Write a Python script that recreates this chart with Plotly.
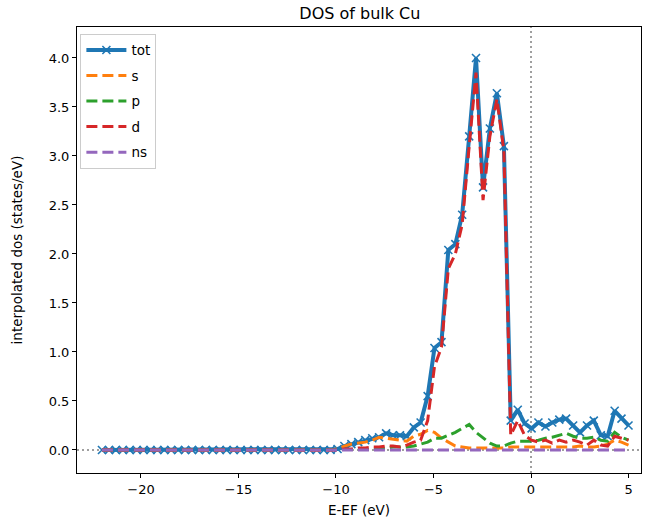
import plotly.graph_objects as go

energy = [-22.00, -21.64, -21.29, -20.93, -20.58, -20.22, -19.87, -19.51, -19.16, -18.80,
          -18.45, -18.09, -17.74, -17.38, -17.03, -16.67, -16.32, -15.96, -15.61, -15.25,
          -14.89, -14.54, -14.18, -13.83, -13.47, -13.12, -12.76, -12.41, -12.05, -11.70,
          -11.34, -10.99, -10.63, -10.28, -9.92, -9.57, -9.21, -8.86, -8.50, -8.14,
          -7.79, -7.43, -7.08, -6.72, -6.37, -6.01, -5.66, -5.30, -4.95, -4.59,
          -4.24, -3.88, -3.53, -3.17, -2.82, -2.46, -2.11, -1.75, -1.39, -1.04,
          -0.68, -0.33, 0.03, 0.38, 0.74, 1.09, 1.45, 1.80, 2.16, 2.51,
          2.87, 3.22, 3.58, 3.93, 4.29, 4.64, 5.00]

ZEROS34 = [0.0, 0.0, 0.0, 0.0, 0.0, 0.0, 0.0, 0.0, 0.0, 0.0,
           0.0, 0.0, 0.0, 0.0, 0.0, 0.0, 0.0, 0.0, 0.0, 0.0,
           0.0, 0.0, 0.0, 0.0, 0.0, 0.0, 0.0, 0.0, 0.0, 0.0,
           0.0, 0.0, 0.0, 0.0]

tot = ZEROS34 + [0.01, 0.04, 0.06, 0.08, 0.10, 0.12, 0.13, 0.17, 0.15, 0.15,
                 0.14, 0.23, 0.28, 0.55, 1.04, 1.10, 2.04, 2.10, 2.40, 3.20,
                 4.00, 2.68, 3.28, 3.64, 3.10, 0.30, 0.41, 0.27, 0.22, 0.28,
                 0.24, 0.28, 0.31, 0.32, 0.25, 0.18, 0.25, 0.30, 0.15, 0.14,
                 0.40, 0.32, 0.25]

s_dos = ZEROS34 + [0.01, 0.04, 0.06, 0.07, 0.08, 0.10, 0.13, 0.12, 0.11, 0.10,
                   0.09, 0.14, 0.16, 0.20, 0.18, 0.12, 0.08, 0.04, 0.03, 0.02,
                   0.02, 0.02, 0.02, 0.02, 0.02, 0.03, 0.03, 0.03, 0.03, 0.03,
                   0.03, 0.03, 0.03, 0.03, 0.03, 0.04, 0.03, 0.03, 0.04, 0.06,
                   0.10, 0.08, 0.05]

p_dos = ZEROS34 + [0.0, 0.0, 0.0, 0.0, 0.0, 0.005, 0.01, 0.02, 0.03, 0.03,
                   0.03, 0.04, 0.06, 0.08, 0.12, 0.12, 0.15, 0.18, 0.22, 0.26,
                   0.18, 0.12, 0.07, 0.04, 0.04, 0.07, 0.09, 0.09, 0.09, 0.10,
                   0.12, 0.13, 0.15, 0.17, 0.14, 0.12, 0.12, 0.13, 0.10, 0.09,
                   0.18, 0.13, 0.10]

d_dos = ZEROS34 + [0.0, 0.01, 0.01, 0.02, 0.02, 0.03, 0.03, 0.04, 0.04, 0.03,
                   0.05, 0.08, 0.10, 0.30, 0.85, 1.05, 1.85, 2.00, 2.30, 3.10,
                   3.85, 2.55, 3.20, 3.58, 3.05, 0.15, 0.30, 0.15, 0.10, 0.08,
                   0.10, 0.07, 0.10, 0.08, 0.10, 0.08, 0.05, 0.10, 0.05, 0.04,
                   0.14, 0.12, 0.10]

ns_dos = ZEROS34 + [0.0, 0.0, 0.0, 0.0, 0.0, 0.0, 0.0, 0.0, 0.0, 0.0,
                    0.0, 0.0, 0.0, 0.0, 0.0, 0.0, 0.0, 0.0, 0.0, 0.0,
                    0.0, 0.0, 0.0, 0.0, 0.0, 0.0, 0.0, 0.0, 0.0, 0.0,
                    0.0, 0.0, 0.0, 0.0, 0.0, 0.0, 0.0, 0.0, 0.0, 0.0,
                    0.0, 0.0, 0.0]

x_ticks = [-20, -15, -10, -5, 0, 5]
y_ticks = [0.0, 0.5, 1.0, 1.5, 2.0, 2.5, 3.0, 3.5, 4.0]

FONT = "DejaVu Sans"
DASH = "11px,5px"

fig = go.Figure()
fig.add_trace(go.Scatter(
    x=energy, y=tot, name="tot", mode="lines+markers", legendgroup="tot",
    line=dict(color="#1f77b4", width=4),
    marker=dict(symbol="x-thin", size=8, color="#1f77b4",
                line=dict(width=1.6, color="#1f77b4")),
))
series = [("s", s_dos, "#ff7f0e"), ("p", p_dos, "#2ca02c"),
          ("d", d_dos, "#d62728"), ("ns", ns_dos, "#9467bd")]
for name, vals, col in series:
    fig.add_trace(go.Scatter(
        x=energy, y=vals, name=name, mode="lines", legendgroup=name,
        line=dict(color=col, width=3, dash=DASH),
    ))

# reference lines at E=EF and dos=0
fig.add_shape(type="line", xref="x", yref="paper", x0=0, x1=0, y0=0, y1=1,
              line=dict(color="gray", width=1.5, dash="2px,3px"), layer="below")
fig.add_shape(type="line", xref="paper", yref="y", x0=0, x1=1, y0=0, y1=0,
              line=dict(color="gray", width=1.5, dash="2px,3px"), layer="below")

axis_common = dict(
    showgrid=False, zeroline=False, showline=True, linecolor="black", linewidth=1,
    mirror=True, ticks="outside", ticklen=4, tickwidth=1, tickcolor="black",
    tickfont=dict(family=FONT, size=13, color="black"), automargin=False,
)
fig.update_xaxes(range=[-23.28, 5.64], tickvals=x_ticks,
                 ticktext=[("\u2212" + str(abs(v))) if v < 0 else str(v) for v in x_ticks],
                 title=dict(text="E-EF (eV)", font=dict(family=FONT, size=13.5, color="black"),
                            standoff=9),
                 **axis_common)
fig.update_yaxes(range=[-0.235, 4.316], tickvals=y_ticks,
                 ticktext=["%.1f" % v for v in y_ticks],
                 title=dict(text="interpolated dos (states/eV)",
                            font=dict(family=FONT, size=13.5, color="black"), standoff=22),
                 **axis_common)

fig.update_layout(
    width=645, height=521,
    margin=dict(l=77, r=4, t=27, b=48),
    paper_bgcolor="white", plot_bgcolor="white",
    title=dict(text="DOS of bulk Cu", x=0.558, xanchor="center", y=0.975, yanchor="middle",
               font=dict(family=FONT, size=16, color="black")),
    font=dict(family=FONT, size=13, color="black"),
    showlegend=True,
    legend=dict(x=0.006, y=0.985, xanchor="left", yanchor="top",
                bgcolor="rgba(255,255,255,0.8)", bordercolor="#cccccc", borderwidth=1,
                font=dict(family=FONT, size=13.5, color="black"),
                itemwidth=40, tracegroupgap=5),
)

fig.write_html("out.html", config={"displayModeBar": False},
               post_script="document.body.style.margin='0';document.body.style.overflow='hidden';")
